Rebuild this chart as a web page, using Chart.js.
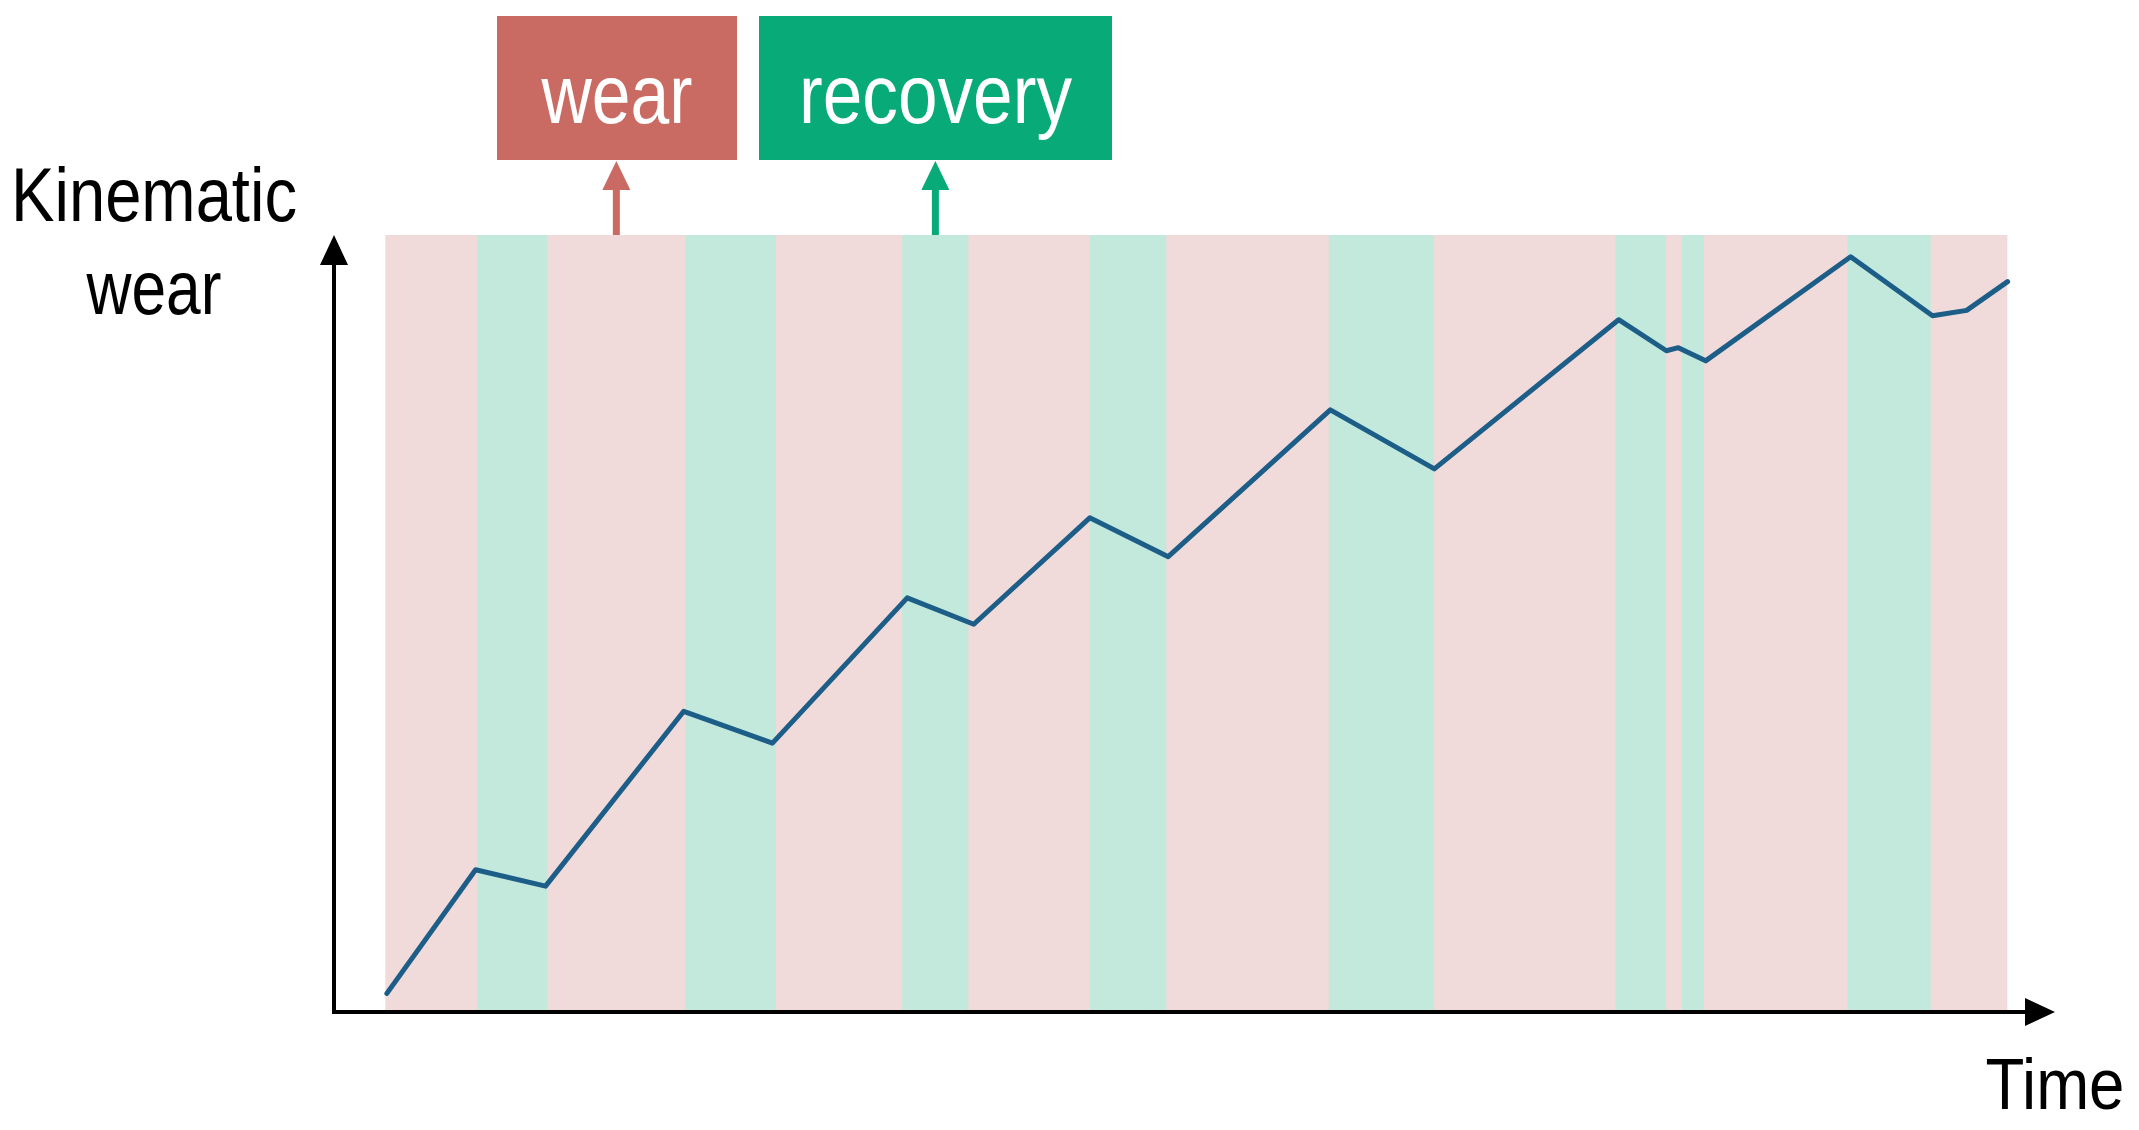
<!DOCTYPE html>
<html>
<head>
<meta charset="utf-8">
<script src="https://cdn.jsdelivr.net/npm/chart.js@4"></script>
<style>
  body { margin: 0; background: #fff; }
  #wrap { width: 2139px; height: 1130px; }
</style>
</head>
<body>
<div id="wrap"><canvas id="wearChart" width="2139" height="1130"></canvas></div>
<script>
// time axis runs 0..100, wear axis 0..100 (arbitrary units)
const bandEdges = [3.0, 8.4, 12.5, 20.6, 25.9, 33.3, 37.2, 44.3, 48.8, 58.3, 64.5, 75.1, 78.1, 79.0, 80.3, 88.7, 93.6, 98.1];
const phases = ['wear', 'recovery', 'wear', 'recovery', 'wear', 'recovery', 'wear', 'recovery', 'wear',
  'recovery', 'wear', 'recovery', 'wear', 'recovery', 'wear', 'recovery', 'wear'];

const wearTime = [3.1, 8.3, 12.4, 20.5, 25.7, 33.6, 37.5, 44.3, 48.9, 58.4, 64.5, 75.3, 78.1, 78.8, 80.4, 88.9, 93.7, 95.7, 98.1];
const wearLevel = [2.4, 18.3, 16.2, 38.7, 34.6, 53.3, 49.9, 63.6, 58.6, 77.5, 69.9, 89.1, 85.1, 85.5, 83.8, 97.2, 89.6, 90.3, 94.0];

// which band each label arrow points at
const labelBands = { wear: 2, recovery: 5 };

const PINK = 'rgb(241, 218, 218)';
const MINT = 'rgb(194, 233, 220)';
const WEAR_RED = 'rgb(201, 107, 98)';
const REC_GREEN = 'rgb(8, 171, 119)';
const LINE_BLUE = 'rgb(28, 94, 135)';
const FONT = "'Liberation Sans', Arial, sans-serif";

// bands as filled flat lines at the top of the scale
const bandSets = [];
bandSets.push({
  data: [{ x: bandEdges[0], y: 100 }, { x: bandEdges[bandEdges.length - 1], y: 100 }],
  backgroundColor: PINK, borderWidth: 0, pointRadius: 0, fill: 'origin', order: 3
});
phases.forEach((p, i) => {
  if (p !== 'recovery') return;
  bandSets.push({
    data: [{ x: bandEdges[i], y: 100 }, { x: bandEdges[i + 1], y: 100 }],
    backgroundColor: MINT, borderWidth: 0, pointRadius: 0, fill: 'origin', order: 2
  });
});

const lineSet = {
  data: wearTime.map((t, i) => ({ x: t, y: wearLevel[i] })),
  borderColor: LINE_BLUE,
  borderWidth: 5,
  pointRadius: 0,
  tension: 0,
  borderJoinStyle: 'round',
  borderCapStyle: 'round',
  fill: false,
  order: 0
};

function arrowHead(ctx, x, y, dir, half, len) {
  ctx.beginPath();
  if (dir === 'up') {
    ctx.moveTo(x, y); ctx.lineTo(x - half, y + len); ctx.lineTo(x + half, y + len);
  } else {
    ctx.moveTo(x, y); ctx.lineTo(x - len, y - half); ctx.lineTo(x - len, y + half);
  }
  ctx.closePath();
  ctx.fill();
}

// the original uses a condensed face, so squeeze the text to its width
function narrowText(ctx, text, cx, baseline, size, width) {
  ctx.font = size + 'px ' + FONT;
  const w = ctx.measureText(text).width;
  ctx.save();
  ctx.translate(cx, baseline);
  ctx.scale(width / w, 1);
  ctx.textAlign = 'center';
  ctx.textBaseline = 'alphabetic';
  ctx.fillText(text, 0, 0);
  ctx.restore();
}

const decorations = {
  id: 'decorations',
  afterDraw(chart) {
    const ctx = chart.ctx;
    const area = chart.chartArea;
    const xs = chart.scales.x;
    ctx.save();

    // axes with arrows
    ctx.strokeStyle = '#000';
    ctx.fillStyle = '#000';
    ctx.lineWidth = 4;
    ctx.beginPath();
    ctx.moveTo(area.left, area.bottom);
    ctx.lineTo(area.left, area.top + 25);
    ctx.moveTo(area.left - 2, area.bottom);
    ctx.lineTo(area.right, area.bottom);
    ctx.stroke();
    arrowHead(ctx, area.left, area.top, 'up', 14, 30);
    arrowHead(ctx, area.right + 15, area.bottom, 'right', 14, 30);

    // label boxes
    const boxes = [
      { key: 'wear', text: 'wear', color: WEAR_RED, x0: 497, x1: 737, tw: 151 },
      { key: 'recovery', text: 'recovery', color: REC_GREEN, x0: 759, x1: 1112, tw: 273 }
    ];
    boxes.forEach(b => {
      ctx.fillStyle = b.color;
      ctx.fillRect(b.x0, 16, b.x1 - b.x0, 144);
      ctx.fillStyle = '#fff';
      narrowText(ctx, b.text, (b.x0 + b.x1) / 2, 123, 84, b.tw);

      const i = labelBands[b.key];
      const ax = xs.getPixelForValue((bandEdges[i] + bandEdges[i + 1]) / 2);
      ctx.strokeStyle = b.color;
      ctx.fillStyle = b.color;
      ctx.lineWidth = 7;
      ctx.beginPath();
      ctx.moveTo(ax, area.top);
      ctx.lineTo(ax, 185);
      ctx.stroke();
      arrowHead(ctx, ax, 161, 'up', 14, 29);
    });

    // axis titles
    ctx.fillStyle = '#000';
    narrowText(ctx, 'Kinematic', 154, 221, 76, 286);
    narrowText(ctx, 'wear', 154, 314, 76, 135);
    narrowText(ctx, 'Time', 2055, 1109, 73, 139);
    ctx.restore();
  }
};

new Chart(document.getElementById('wearChart'), {
  type: 'line',
  data: { datasets: [lineSet, ...bandSets] },
  options: {
    responsive: false,
    animation: false,
    devicePixelRatio: 1,
    layout: { padding: { left: 334, top: 235, right: 99, bottom: 118 } },
    scales: {
      x: { type: 'linear', min: 0, max: 100, display: false },
      y: { type: 'linear', min: 0, max: 100, display: false }
    },
    plugins: { legend: { display: false }, tooltip: { enabled: false } }
  },
  plugins: [decorations]
});
</script>
</body>
</html>
